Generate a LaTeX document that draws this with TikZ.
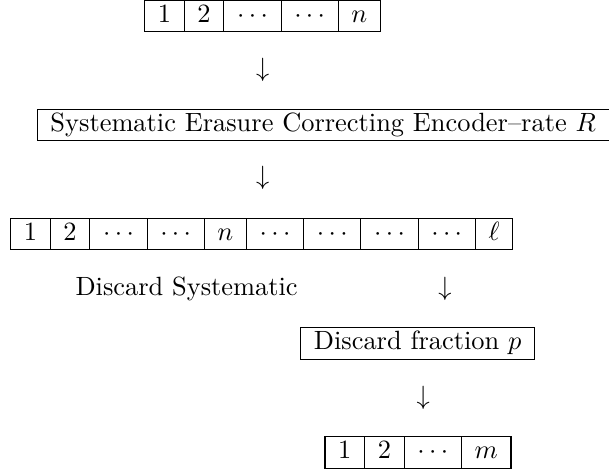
\documentclass[tikz,border=0pt]{standalone}
\usepackage{tikz}
\usetikzlibrary{positioning}

\begin{document}
\begin{tikzpicture}[
    x=0.3788pt, y=-0.3788pt,
    cell/.style={
        rectangle,
        draw,
        line width=0.4pt,
        inner xsep=5pt,
        inner ysep=0pt,
        outer sep=0pt,
        text height=8.5pt,
        text depth=3.5pt
    },
    downarrow/.style={
        inner sep=0pt,
        anchor=base
    },
    plain/.style={
        inner sep=0pt,
        anchor=base west
    }
]

\useasboundingbox (0,0) rectangle (609,473);

% ------------------------------------------------------------
% Input block
% ------------------------------------------------------------

\node[cell, anchor=west] (in1) at (144.7,16) {$1$};
\node[cell, right=0pt of in1] (in2) {$2$};
\node[cell, right=0pt of in2] (in3) {$\cdots$};
\node[cell, right=0pt of in3] (in4) {$\cdots$};
\node[cell, right=0pt of in4] (inn) {$n$};

\node[downarrow] (arr1) at (262.7,76.6) {$\downarrow$};

% ------------------------------------------------------------
% Encoder
% ------------------------------------------------------------

\node[cell, anchor=west, text width=209pt, align=left] (encoder) at (37.3,125)
    {Systematic Erasure Correcting Encoder--rate $R$};

\node[downarrow] (arr2) at (262.7,185) {$\downarrow$};

% ------------------------------------------------------------
% Codeword
% ------------------------------------------------------------

\node[cell, anchor=west] (c1) at (10.7,234) {$1$};
\node[cell, right=0pt of c1] (c2) {$2$};
\node[cell, right=0pt of c2] (c3) {$\cdots$};
\node[cell, right=0pt of c3] (c4) {$\cdots$};
\node[cell, right=0pt of c4] (c5) {$n$};
\node[cell, right=0pt of c5] (c6) {$\cdots$};
\node[cell, right=0pt of c6] (c7) {$\cdots$};
\node[cell, right=0pt of c7] (c8) {$\cdots$};
\node[cell, right=0pt of c8] (c9) {$\cdots$};
\node[cell, right=0pt of c9] (c10) {$\ell$};

\node[plain] (discsys) at (75,296) {Discard Systematic};

\node[downarrow] (arr3) at (445,295.6) {$\downarrow$};

% ------------------------------------------------------------
% Discard
% ------------------------------------------------------------

\node[cell, anchor=west] (discard) at (300.7,343.4)
    {Discard fraction $p$};

\node[downarrow] (arr4) at (423.3,404.2) {$\downarrow$};

% ------------------------------------------------------------
% Output block
% ------------------------------------------------------------

\node[cell, anchor=west] (out1) at (325,452.4) {$1$};
\node[cell, right=0pt of out1] (out2) {$2$};
\node[cell, right=0pt of out2] (out3) {$\cdots$};
\node[cell, right=0pt of out3] (outm) {$m$};

\end{tikzpicture}
\end{document}
